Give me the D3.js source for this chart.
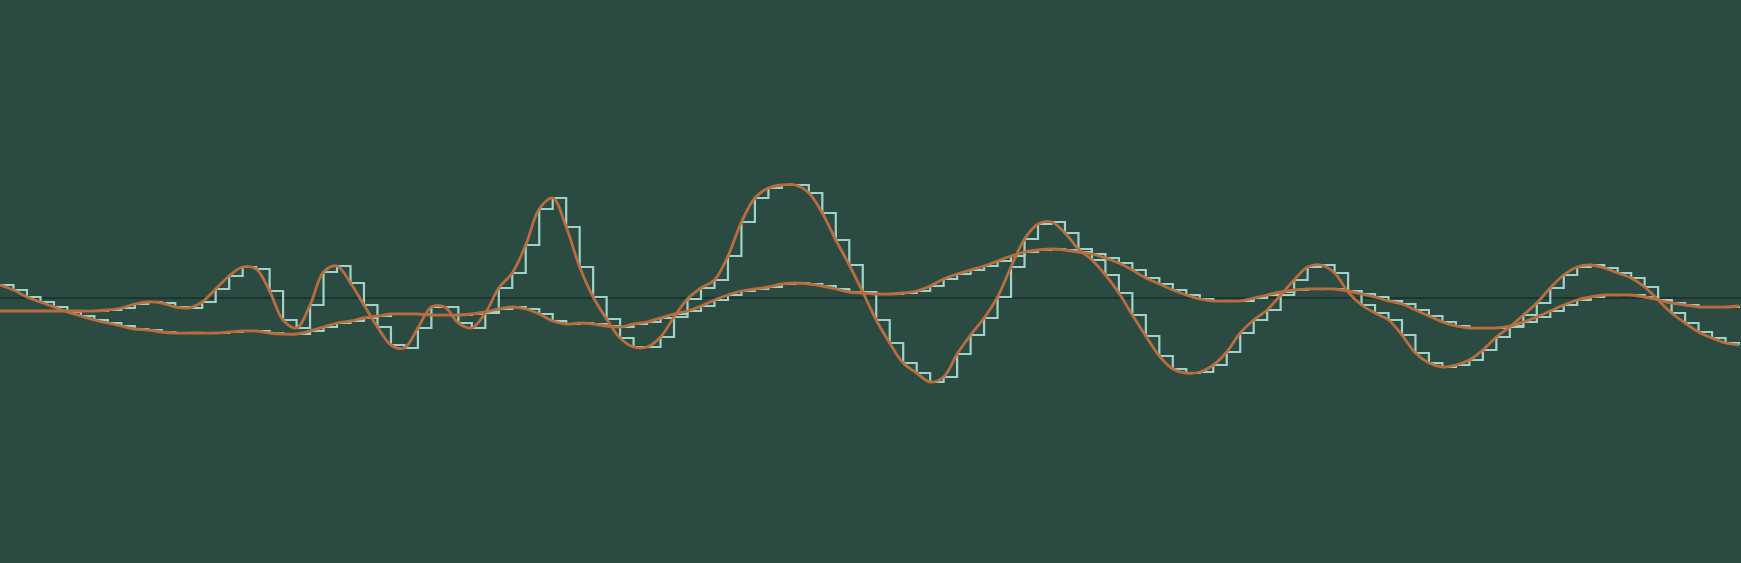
<!DOCTYPE html>
<html>
<head>
<meta charset="utf-8">
<script src="https://cdn.jsdelivr.net/npm/d3@7"></script>
<style>
html,body{margin:0;padding:0;background:#2a4a42;overflow:hidden;}
svg{display:block;}
</style>
</head>
<body>
<svg id="chart" width="1741" height="563"></svg>
<script>
// Sample index (x) for every point
const sampleCount = 130;

// Large-amplitude signal
const seriesA = [
 -0.13,-0.13,-0.13,-0.13,-0.13,-0.13,-0.13,-0.13,-0.12,-0.10,
 -0.06,-0.04,-0.05,-0.09,-0.10,-0.04,0.09,0.22,0.31,0.29,
 0.07,-0.22,-0.30,-0.07,0.26,0.32,0.15,-0.07,-0.29,-0.47,
 -0.50,-0.30,-0.09,-0.09,-0.25,-0.30,-0.15,0.10,0.25,0.53,
 0.89,1.00,0.71,0.31,0.01,-0.21,-0.40,-0.49,-0.49,-0.39,
 -0.19,-0.01,0.10,0.18,0.42,0.76,1.00,1.10,1.13,1.13,
 1.05,0.85,0.58,0.33,0.06,-0.22,-0.45,-0.65,-0.75,-0.84,
 -0.79,-0.56,-0.37,-0.20,0.01,0.31,0.59,0.74,0.76,0.65,
 0.49,0.38,0.23,0.05,-0.17,-0.38,-0.58,-0.71,-0.75,-0.74,
 -0.67,-0.54,-0.35,-0.22,-0.12,0.03,0.18,0.31,0.33,0.25,
 0.06,-0.07,-0.15,-0.22,-0.37,-0.55,-0.65,-0.69,-0.67,-0.62,
 -0.52,-0.39,-0.29,-0.17,-0.05,0.10,0.23,0.31,0.33,0.30,
 0.25,0.20,0.11,-0.02,-0.15,-0.25,-0.34,-0.40,-0.45,-0.47
];

// Small-amplitude signal
const seriesB = [
 0.13,0.08,0.01,-0.04,-0.09,-0.14,-0.18,-0.22,-0.25,-0.28,
 -0.31,-0.32,-0.34,-0.35,-0.35,-0.35,-0.35,-0.34,-0.33,-0.33,
 -0.35,-0.36,-0.36,-0.33,-0.29,-0.25,-0.23,-0.20,-0.18,-0.16,
 -0.16,-0.16,-0.17,-0.17,-0.17,-0.16,-0.14,-0.11,-0.09,-0.11,
 -0.16,-0.23,-0.26,-0.25,-0.26,-0.28,-0.29,-0.26,-0.24,-0.20,
 -0.16,-0.13,-0.08,-0.02,0.03,0.07,0.09,0.11,0.14,0.15,
 0.14,0.12,0.09,0.06,0.05,0.04,0.04,0.05,0.07,0.12,
 0.19,0.24,0.28,0.32,0.37,0.42,0.46,0.48,0.49,0.48,
 0.46,0.44,0.40,0.35,0.28,0.20,0.14,0.08,0.03,-0.01,
 -0.03,-0.03,-0.03,0.00,0.03,0.06,0.08,0.09,0.09,0.09,
 0.07,0.04,0.01,-0.03,-0.06,-0.12,-0.18,-0.24,-0.28,-0.30,
 -0.30,-0.30,-0.28,-0.24,-0.19,-0.13,-0.07,-0.02,0.01,0.03,
 0.03,0.03,0.01,-0.02,-0.05,-0.07,-0.09,-0.09,-0.09,-0.08
];

const W = 1741, H = 563;
const svg = d3.select("#chart");

const defs = svg.append("defs");
defs.append("filter").attr("id", "soft")
  .attr("x", "-5%").attr("y", "-5%").attr("width", "110%").attr("height", "110%")
  .append("feGaussianBlur").attr("stdDeviation", 0.45);

svg.append("rect").attr("width", W).attr("height", H).attr("fill", "#2a4a42");

const x = d3.scaleLinear().domain([0, sampleCount - 1]).range([0, 1739]);
const y = d3.scaleLinear().domain([-1, 1]).range([398, 198]);

// zero line
svg.append("line")
  .attr("x1", 0).attr("x2", W)
  .attr("y1", y(0)).attr("y2", y(0))
  .attr("stroke", "#1b352e").attr("stroke-width", 2);

const stepLine = d3.line().x((d, i) => x(i)).y(d => y(d)).curve(d3.curveStepAfter);
const smoothLine = d3.line().x((d, i) => x(i)).y(d => y(d)).curve(d3.curveCatmullRom.alpha(0.5));

const g = svg.append("g").attr("filter", "url(#soft)");

[seriesA, seriesB].forEach(s => {
  g.append("path").datum(s)
    .attr("d", stepLine)
    .attr("fill", "none")
    .attr("stroke", "#9fd3c9")
    .attr("stroke-width", 2.2);
});

[seriesA, seriesB].forEach(s => {
  g.append("path").datum(s)
    .attr("d", smoothLine)
    .attr("fill", "none")
    .attr("stroke", "#b96d3e")
    .attr("stroke-width", 2.8);
});
</script>
</body>
</html>
